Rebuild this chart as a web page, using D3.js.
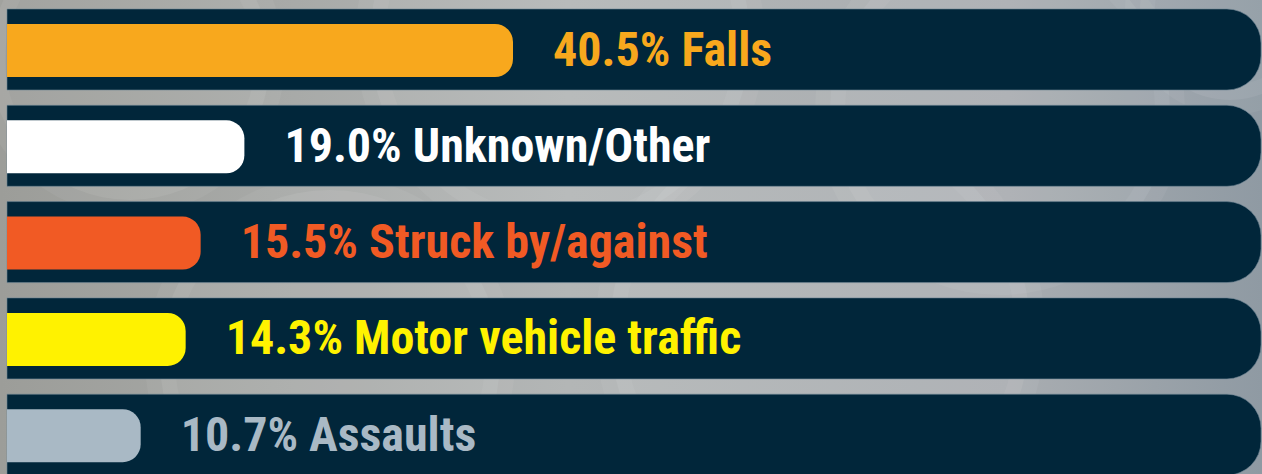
<!DOCTYPE html>
<html>
<head>
<meta charset="utf-8">
<script src="https://cdn.jsdelivr.net/npm/d3@7"></script>
<style>
  html, body { margin: 0; padding: 0; overflow: hidden; background: #a3a6a4; }
  svg { display: block; }
  .label { font-family: "Liberation Sans Narrow", "Arial Narrow", "Roboto Condensed", sans-serif; font-weight: bold; }
</style>
</head>
<body>
<div id="chart"></div>
<script>
// data
var categories = ["Falls", "Unknown/Other", "Struck by/against", "Motor vehicle traffic", "Assaults"];
var percents = [40.5, 19.0, 15.5, 14.3, 10.7];
var colors = ["#f8a81d", "#ffffff", "#f15a24", "#fff200", "#a9b9c5"];

var attrs = {
  svgWidth: 1262,
  svgHeight: 474,
  trackLeft: 7,
  trackRight: 1261,
  trackTop: 9,
  trackHeight: 81,
  rowStep: 96.3,
  trackRadius: 34,
  barInsetTop: 15,
  barHeight: 53,
  barRadius: 18,
  labelGap: 40,
  fontSize: 48,
  trackColor: "#01263a"
};

var svg = d3.select("#chart").append("svg")
  .attr("width", attrs.svgWidth)
  .attr("height", attrs.svgHeight);

// background
var defs = svg.append("defs");
var grad = defs.append("linearGradient").attr("id", "bg").attr("x1", 0).attr("x2", 1).attr("y1", 0).attr("y2", 0);
grad.append("stop").attr("offset", "0%").attr("stop-color", "#9c9d99");
grad.append("stop").attr("offset", "45%").attr("stop-color", "#b3b6b6");
grad.append("stop").attr("offset", "80%").attr("stop-color", "#a9adb1");
grad.append("stop").attr("offset", "100%").attr("stop-color", "#8f9aa3");
svg.append("rect").attr("width", attrs.svgWidth).attr("height", attrs.svgHeight).attr("fill", "url(#bg)");

// faint round shapes in the backdrop
var blobs = [[130, 60, 140], [560, 40, 190], [1000, 110, 170], [820, 330, 210], [330, 360, 170], [1230, 10, 90]];
svg.append("g").selectAll("circle").data(blobs).enter().append("circle")
  .attr("cx", function(d) { return d[0]; })
  .attr("cy", function(d) { return d[1]; })
  .attr("r", function(d) { return d[2]; })
  .attr("fill", "#ffffff")
  .attr("fill-opacity", 0.07)
  .attr("stroke", "#ffffff")
  .attr("stroke-opacity", 0.05)
  .attr("stroke-width", 30);

// scales
var nRows = categories.length;
var rangeEnd = attrs.trackTop + (nRows - 1) * attrs.rowStep + attrs.trackHeight;
var pad = nRows - (rangeEnd - attrs.trackTop) / attrs.rowStep;
var y = d3.scaleBand().domain(categories).range([attrs.trackTop, rangeEnd]).paddingInner(pad).paddingOuter(0);
var x = d3.scaleLinear().domain([0, 40.5]).range([attrs.trackLeft, 513]);

var rows = categories.map(function(c, i) { return { name: c, value: percents[i], color: colors[i] }; });

// path with square left side and rounded right side
function rightRounded(x0, y0, w, h, r) {
  r = Math.min(r, h / 2, w);
  return "M" + x0 + "," + y0 +
    "H" + (x0 + w - r) +
    "A" + r + "," + r + " 0 0 1 " + (x0 + w) + "," + (y0 + r) +
    "V" + (y0 + h - r) +
    "A" + r + "," + r + " 0 0 1 " + (x0 + w - r) + "," + (y0 + h) +
    "H" + x0 + "Z";
}

var g = svg.append("g").selectAll("g.row").data(rows).enter().append("g").attr("class", "row");

g.append("path")
  .attr("d", function(d) { return rightRounded(attrs.trackLeft, y(d.name), attrs.trackRight - attrs.trackLeft, y.bandwidth(), attrs.trackRadius); })
  .attr("fill", attrs.trackColor)
  .attr("stroke", "#6f8594")
  .attr("stroke-opacity", 0.6)
  .attr("stroke-width", 1);

g.append("path")
  .attr("d", function(d) { return rightRounded(x(0), y(d.name) + attrs.barInsetTop, x(d.value) - x(0), attrs.barHeight, attrs.barRadius); })
  .attr("fill", function(d) { return d.color; });

g.append("text")
  .attr("class", "label")
  .attr("x", function(d) { return x(d.value) + attrs.labelGap; })
  .attr("y", function(d) { return y(d.name) + y.bandwidth() / 2 + 16; })
  .attr("font-size", attrs.fontSize)
  .attr("fill", function(d) { return d.color; })
  .text(function(d) { return d.value.toFixed(1) + "% " + d.name; });
</script>
</body>
</html>
